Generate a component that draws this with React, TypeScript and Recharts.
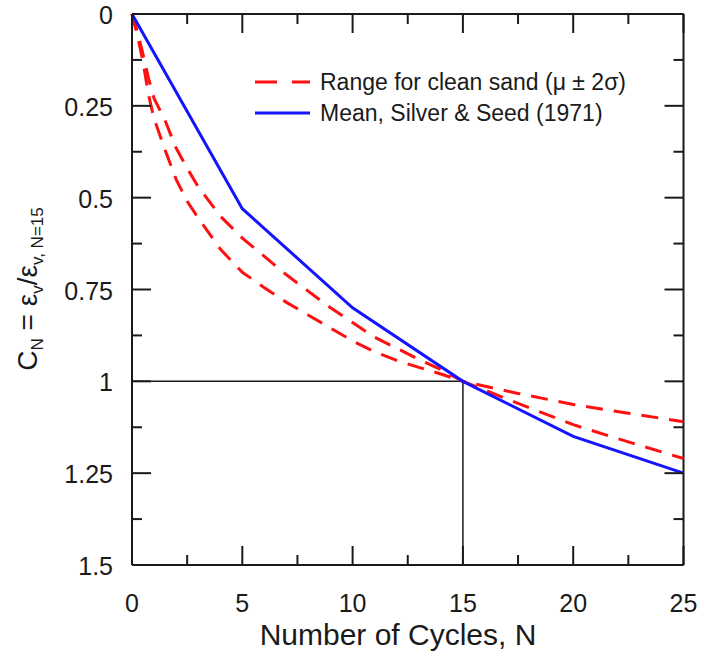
import { LineChart, Line, XAxis, YAxis, ReferenceLine, Legend } from "recharts"

// Silver & Seed (1971) mean curve
const meanCycles = [0, 5, 10, 15, 20, 25]
const meanCN = [0, 0.53, 0.8, 1.0, 1.15, 1.25]

// clean sand range, mu +/- 2 sigma
const rangeCycles = [0, 0.25, 0.5, 0.75, 1, 1.5, 2, 2.5, 3, 4, 5, 6, 7, 8, 9, 10, 11, 12, 13, 14, 15, 17.5, 20, 22.5, 25]
const rangeLowCN = [0, 0.05, 0.11, 0.175, 0.23, 0.29, 0.365, 0.42, 0.47, 0.55, 0.61, 0.66, 0.71, 0.755, 0.8, 0.84, 0.88, 0.91, 0.94, 0.968, 1.0, 1.033, 1.063, 1.087, 1.11]
const rangeHighCN = [0, 0.06, 0.13, 0.22, 0.285, 0.37, 0.45, 0.51, 0.555, 0.64, 0.703, 0.745, 0.785, 0.82, 0.855, 0.89, 0.92, 0.943, 0.962, 0.98, 1.0, 1.06, 1.118, 1.165, 1.21]

const xTicks = [0, 2.5, 5, 7.5, 10, 12.5, 15, 17.5, 20, 22.5, 25]
const yTicks = [0, 0.125, 0.25, 0.375, 0.5, 0.625, 0.75, 0.875, 1, 1.125, 1.25, 1.375, 1.5]

const meanData = meanCycles.map((n, i) => ({ n, cn: meanCN[i] }))
const lowData = rangeCycles.map((n, i) => ({ n, cn: rangeLowCN[i] }))
const highData = rangeCycles.map((n, i) => ({ n, cn: rangeHighCN[i] }))

const FONT = "'Liberation Sans', Arial, sans-serif"
const INK = "#1a1a1a"
const RED = "#ff1010"
const BLUE = "#1414ff"

const W = 702
const H = 655
const TOP = 14
const BOTTOM = 565
const LEFT = 132
const RIGHT = 683.5

const XTick = (props: any) => {
  const { x, payload } = props
  const v = payload.value
  const major = v % 5 === 0
  const len = major ? 19 : 10
  return (
    <g>
      <line x1={x} x2={x} y1={BOTTOM} y2={BOTTOM - len} stroke={INK} strokeWidth={2} />
      <line x1={x} x2={x} y1={TOP} y2={TOP + len} stroke={INK} strokeWidth={2} />
      {major && (
        <text x={x} y={612} textAnchor="middle" fontSize={25} fontFamily={FONT} fill={INK}>
          {v}
        </text>
      )}
    </g>
  )
}

const YTick = (props: any) => {
  const { y, payload } = props
  const v = payload.value
  const major = Math.abs(v * 4 - Math.round(v * 4)) < 1e-6
  const len = major ? 19 : 10
  return (
    <g>
      <line x1={LEFT} x2={LEFT + len} y1={y} y2={y} stroke={INK} strokeWidth={2} />
      <line x1={RIGHT} x2={RIGHT - len} y1={y} y2={y} stroke={INK} strokeWidth={2} />
      {major && (
        <text x={113} y={y + 10} textAnchor="end" fontSize={25} fontFamily={FONT} fill={INK}>
          {String(v)}
        </text>
      )}
    </g>
  )
}

const YTitle = () => (
  <text
    x={37}
    y={289}
    transform="rotate(-90 37 289)"
    textAnchor="middle"
    fontSize={28}
    fontFamily={FONT}
    fill={INK}
  >
    <tspan>C</tspan>
    <tspan fontSize={17} dy={6}>N</tspan>
    <tspan dy={-6}> = ε</tspan>
    <tspan fontSize={17} dy={6}>v</tspan>
    <tspan dy={-6}>/ε</tspan>
    <tspan fontSize={17} dy={6}>v, N=15</tspan>
  </text>
)

const XTitle = () => (
  <text x={398} y={645} textAnchor="middle" fontSize={30} fontFamily={FONT} fill={INK}>
    Number of Cycles, N
  </text>
)

const LegendBox = () => (
  <svg width={420} height={75} style={{ display: "block" }}>
    <line x1={5} x2={60} y1={22} y2={22} stroke={RED} strokeWidth={3} strokeDasharray="22 15" />
    <text x={70} y={30} fontSize={23} fontFamily={FONT} fill={INK}>
      Range for clean sand (μ ± 2σ)
    </text>
    <line x1={5} x2={60} y1={53} y2={53} stroke={BLUE} strokeWidth={3} />
    <text x={70} y={61} fontSize={23} fontFamily={FONT} fill={INK}>
      Mean, Silver &amp; Seed (1971)
    </text>
  </svg>
)

export default function App() {
  return (
    <div style={{ position: "absolute", left: 0, top: 0, background: "#fff" }}>
      <LineChart width={W} height={H} margin={{ top: TOP, right: W - RIGHT, bottom: 40, left: 72 }}>
        <XAxis
          dataKey="n"
          type="number"
          domain={[0, 25]}
          ticks={xTicks}
          interval={0}
          height={50}
          tickLine={false}
          axisLine={{ stroke: INK, strokeWidth: 2 }}
          tick={XTick}
          label={{ content: () => <XTitle /> }}
        />
        <YAxis
          type="number"
          domain={[0, 1.5]}
          reversed
          ticks={yTicks}
          interval={0}
          width={60}
          tickLine={false}
          axisLine={{ stroke: INK, strokeWidth: 2 }}
          tick={YTick}
          label={{ content: () => <YTitle /> }}
        />
        <ReferenceLine y={0} stroke={INK} strokeWidth={2} />
        <ReferenceLine x={25} stroke={INK} strokeWidth={2} />
        <ReferenceLine segment={[{ x: 0, y: 1 }, { x: 15, y: 1 }]} stroke={INK} strokeWidth={1.5} />
        <ReferenceLine segment={[{ x: 15, y: 1 }, { x: 15, y: 1.5 }]} stroke={INK} strokeWidth={1.5} />
        <Line data={lowData} dataKey="cn" stroke={RED} strokeWidth={3} strokeDasharray="17 11" dot={false} isAnimationActive={false} />
        <Line data={highData} dataKey="cn" stroke={RED} strokeWidth={3} strokeDasharray="17 11" dot={false} isAnimationActive={false} />
        <Line data={meanData} dataKey="cn" stroke={BLUE} strokeWidth={3} dot={false} isAnimationActive={false} />
        <Legend
          layout="vertical"
          align="center"
          verticalAlign="middle"
          content={() => <LegendBox />}
          wrapperStyle={{ left: 250, top: 60, width: 420, height: 75 }}
        />
      </LineChart>
    </div>
  )
}
